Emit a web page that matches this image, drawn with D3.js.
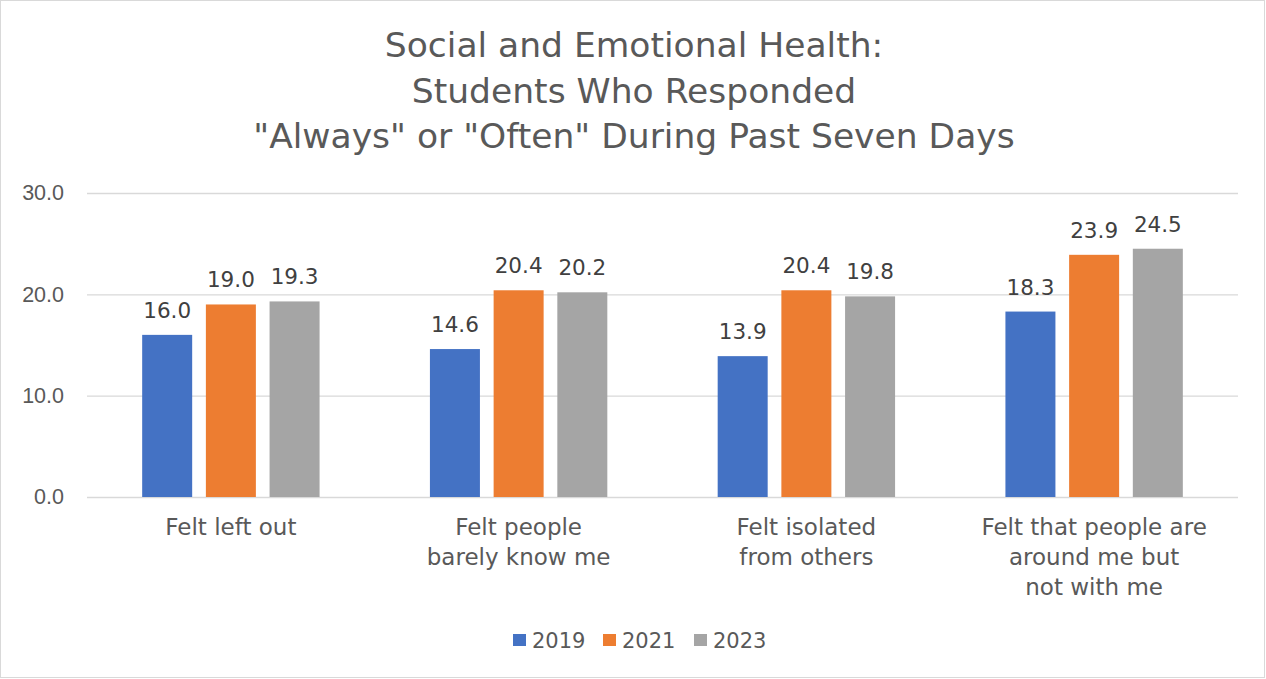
<!DOCTYPE html>
<html><head><meta charset="utf-8">
<script src="https://cdn.jsdelivr.net/npm/d3@7"></script>
<style>
body{margin:0;background:#fff;}
svg{display:block;font-family:"Century Gothic","DejaVu Sans",sans-serif;}
</style></head>
<body><svg id="c" width="1266" height="679"></svg>
<script>
const titleLines = ["Social and Emotional Health:", "Students Who Responded", "\"Always\" or \"Often\" During Past Seven Days"];
const categories = ["Felt left out", "Felt people barely know me", "Felt isolated from others", "Felt that people are around me but not with me"];
const categoryLines = [["Felt left out"], ["Felt people", "barely know me"], ["Felt isolated", "from others"], ["Felt that people are", "around me but", "not with me"]];
const seriesNames = ["2019", "2021", "2023"];
const values2019 = [16.0, 14.6, 13.9, 18.3];
const values2021 = [19.0, 20.4, 20.4, 23.9];
const values2023 = [19.3, 20.2, 19.8, 24.5];
const colors = ["#4472C4", "#ED7D31", "#A5A5A5"];
const yTicks = [0, 10, 20, 30];

const series = [values2019, values2021, values2023];
const svg = d3.select("#c");
const W = 1266, H = 679;
svg.append("rect").attr("x",0.5).attr("y",0.5).attr("width",W-2).attr("height",H-2)
  .attr("fill","#fff").attr("stroke","#d9d9d9");

const m = {l:87, r:1238, t:193, b:497};
const x0 = d3.scaleBand().domain(categories).range([m.l, m.r]).paddingInner(0).paddingOuter(0);
const y = d3.scaleLinear().domain([0,30]).range([m.b, m.t]);

// title
svg.append("g").selectAll("text").data(titleLines).join("text")
  .attr("x", 634).attr("y",(d,i)=>[57,103,148][i])
  .attr("text-anchor","middle").attr("font-size",34.5).attr("fill","#595959").text(d=>d);

// gridlines
const ya = d3.axisLeft(y).tickValues(yTicks).tickFormat(d3.format(".1f")).tickSize(-(m.r-m.l)).tickPadding(23);
const gy = svg.append("g").attr("transform",`translate(${m.l},0)`).call(ya);
gy.select(".domain").remove();
gy.selectAll(".tick line").attr("stroke","#d9d9d9").attr("stroke-width",1.3);
gy.selectAll(".tick text").attr("font-size",21.5).attr("fill","#595959").attr("font-family","inherit");

// bars
const bw = 50, gap = 13.7;
const groupW = 3*bw + 2*gap;
series.forEach((vals, si) => {
  const g = svg.append("g");
  g.selectAll("rect").data(vals).join("rect")
    .attr("x",(d,i)=>x0(categories[i]) + (x0.bandwidth()-groupW)/2 + si*(bw+gap))
    .attr("y",d=>y(d)).attr("width",bw).attr("height",d=>y(0)-y(d))
    .attr("fill",colors[si]);
  g.selectAll("text").data(vals).join("text")
    .attr("x",(d,i)=>x0(categories[i]) + (x0.bandwidth()-groupW)/2 + si*(bw+gap) + bw/2)
    .attr("y",d=>y(d)-17)
    .attr("text-anchor","middle").attr("font-size",21.5).attr("fill","#404040")
    .text(d=>d3.format(".1f")(d));
});

// category labels
categoryLines.forEach((lines, i) => {
  svg.append("g").selectAll("text").data(lines).join("text")
    .attr("x", x0(categories[i]) + x0.bandwidth()/2)
    .attr("y",(d,j)=>535+j*30)
    .attr("text-anchor","middle").attr("font-size",23).attr("fill","#595959").text(d=>d);
});

// legend
const legX = [513, 603, 694];
const lg = svg.append("g");
seriesNames.forEach((n,i)=>{
  lg.append("rect").attr("x",legX[i]).attr("y",634).attr("width",13).attr("height",12).attr("fill",colors[i]);
  lg.append("text").attr("x",legX[i]+19).attr("y",648).attr("font-size",21).attr("fill","#595959").text(n);
});
</script></body></html>
